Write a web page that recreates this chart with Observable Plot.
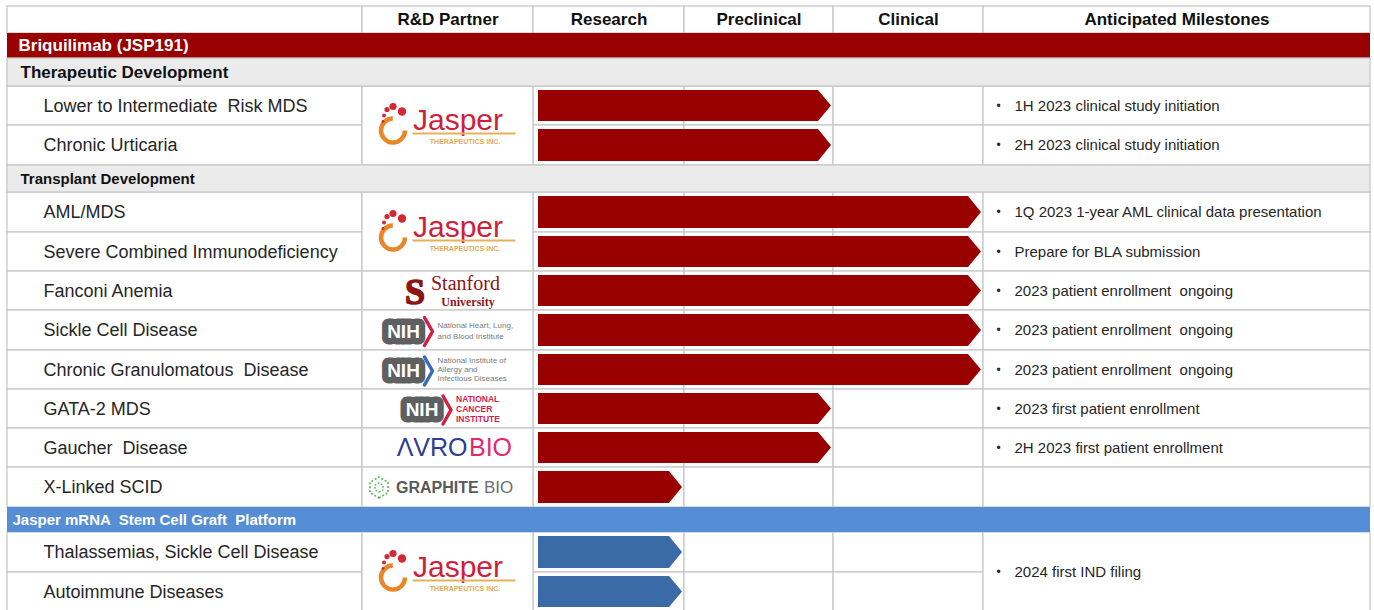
<!DOCTYPE html>
<html><head><meta charset="utf-8">
<script src="https://cdn.jsdelivr.net/npm/d3@7"></script>
<script src="https://cdn.jsdelivr.net/npm/@observablehq/plot@0.6"></script>
<style>html,body{margin:0;padding:0;background:#fff;} #chart svg{display:block;}</style>
</head><body><div id="chart"></div>
<script>
// ---------- DATA ----------
const headers = ["", "R&D Partner", "Research", "Preclinical", "Clinical", "Anticipated Milestones"];
const products = ["Briquilimab (JSP191)", "Jasper mRNA  Stem Cell Graft  Platform"];
const groups = ["Therapeutic Development", "Transplant Development"];
const programs = [
  "Lower to Intermediate  Risk MDS",
  "Chronic Urticaria",
  "AML/MDS",
  "Severe Combined Immunodeficiency",
  "Fanconi Anemia",
  "Sickle Cell Disease",
  "Chronic Granulomatous  Disease",
  "GATA-2 MDS",
  "Gaucher  Disease",
  "X-Linked SCID",
  "Thalassemias, Sickle Cell Disease",
  "Autoimmune Diseases"
];
const programProduct = [0, 0, 0, 0, 0, 0, 0, 0, 0, 0, 1, 1];
const programGroup = [0, 0, 1, 1, 1, 1, 1, 1, 1, 1, null, null];
// stage reached: 1 = Research, 2 = Preclinical, 3 = Clinical
const stageReached = [2, 2, 3, 3, 3, 3, 3, 2, 2, 1, 1, 1];
// null = merged with the cell above
const partners = ["Jasper", null, "Jasper", null, "Stanford", "NHLBI", "NIAID", "NCI", "AVROBIO", "Graphite", "Jasper", null];
const milestones = [
  "1H 2023 clinical study initiation",
  "2H 2023 clinical study initiation",
  "1Q 2023 1-year AML clinical data presentation",
  "Prepare for BLA submission",
  "2023 patient enrollment  ongoing",
  "2023 patient enrollment  ongoing",
  "2023 patient enrollment  ongoing",
  "2023 first patient enrollment",
  "2H 2023 first patient enrollment",
  "",
  "2024 first IND filing",
  null
];

// ---------- LAYOUT / STYLE ----------
const colEdges = [7, 362, 533, 684, 833, 983, 1370];
const rowEdges = [6, 33, 58, 86, 125, 165, 192, 232, 271, 310, 350, 389, 428, 467, 507, 532, 572, 611];
const productFill = ["#990000", "#558ed5"];
const productFont = [17, 15];
const productDx = [11, 5];
const groupFont = [17, 15];
const arrowFill = ["#990000", "#3a6ba6"];
const grid = "#c8c8c8";
const FONT = "Liberation Sans, Arial, Helvetica, sans-serif";
const SERIF = "Liberation Serif, Times New Roman, serif";

const fx = d3.scaleLinear(d3.range(colEdges.length), colEdges);
const fy = d3.scaleLinear(d3.range(rowEdges.length), rowEdges);
const X = (px) => fx.invert(px);
const Y = (py) => fy.invert(py);

// ---------- ROWS ----------
const rows = [{kind: "header"}];
let prevP = null, prevG = null;
programs.forEach((name, i) => {
  if (programProduct[i] !== prevP) { rows.push({kind: "product", p: programProduct[i]}); prevP = programProduct[i]; prevG = null; }
  if (programGroup[i] !== null && programGroup[i] !== prevG) { rows.push({kind: "group", g: programGroup[i]}); prevG = programGroup[i]; }
  rows.push({kind: "item", i});
});
const rowOf = {};
rows.forEach((r, k) => { r.k = k; if (r.kind === "item") rowOf[r.i] = k; });

// ---------- CELLS ----------
const cells = [];
headers.forEach((h, c) => cells.push({x1: c, x2: c + 1, y1: 0, y2: 1}));
function spans(arr) {
  const out = [];
  arr.forEach((v, i) => {
    if (v !== null) out.push({v, y1: rowOf[i], y2: rowOf[i] + 1});
    else out[out.length - 1].y2 = rowOf[i] + 1;
  });
  return out;
}
const partnerSpans = spans(partners);
const milestoneSpans = spans(milestones);
programs.forEach((n, i) => {
  const r = rowOf[i];
  cells.push({x1: 0, x2: 1, y1: r, y2: r + 1});
  for (let c = 2; c <= 4; c++) cells.push({x1: c, x2: c + 1, y1: r, y2: r + 1});
});
partnerSpans.forEach(s => cells.push({x1: 1, x2: 2, y1: s.y1, y2: s.y2}));
milestoneSpans.forEach(s => cells.push({x1: 5, x2: 6, y1: s.y1, y2: s.y2}));

const bands = rows.filter(r => r.kind === "product" || r.kind === "group").map(r => ({
  y1: r.k, y2: r.k + 1,
  fill: r.kind === "product" ? productFill[r.p] : "#ebebeb",
  stroke: r.kind === "product" ? "none" : grid
}));

// ---------- ARROWS ----------
const arrowPts = [];
programs.forEach((n, i) => {
  const r = rowOf[i];
  const end = colEdges[2 + stageReached[i]];
  const top = Y(fy(r) + 4), bot = Y(fy(r + 1) - 4), mid = r + 0.5;
  const col = arrowFill[programProduct[i]];
  arrowPts.push({id: i, x: X(colEdges[2] + 5), y1: top, y2: bot, fill: col});
  arrowPts.push({id: i, x: X(end - 15), y1: top, y2: bot, fill: col});
  arrowPts.push({id: i, x: X(end - 2), y1: mid, y2: mid, fill: col});
});

// ---------- LOGOS ----------
function txt(p, t, o) { return Plot.text(p, {x: d => d[0], y: d => d[1], text: () => t, ...o}); }
function jasperLogo(ya) {
  const p = [[1.5, ya]], ax = fx(1.5);
  return [
    Plot.dot(p, {x: d => d[0], y: d => d[1], dx: -55, dy: 5, r: 12, fill: "none", stroke: "#e8862a", strokeWidth: 4.5, strokeDasharray: "56 20"}),
    ...[[-55, -19, 3.6], [-46, -14, 4.2], [-61, -16, 2.6], [-64, -10, 2], [-65, -4, 1.4]].map(([dx, dy, r]) =>
      Plot.dot(p, {x: d => d[0], y: d => d[1], dx, dy, r, fill: "#d22a32"})),
    txt(p, "Jasper", {dx: -35, dy: -5, textAnchor: "start", fontSize: 30, letterSpacing: 1.5, fill: "#cf1f3a"}),
    Plot.ruleY([ya], {x1: X(ax - 35), x2: X(ax + 68), dy: 8, stroke: "#e3b35b", strokeWidth: 2}),
    txt(p, "THERAPEUTICS INC.", {dx: 17, dy: 16, fontSize: 7, fontWeight: "bold", letterSpacing: 2.4, fill: "#e2aa55"})
  ];
}
function stanfordLogo(ya) {
  const p = [[1.5, ya]];
  return [
    txt(p, "S", {dx: -33, dy: 1, fontFamily: SERIF, fontWeight: "bold", fontSize: 36, fill: "#8c1515", stroke: "#8c1515", strokeWidth: 1.5}),
    txt(p, "Stanford", {dx: -17, dy: -7, textAnchor: "start", fontFamily: SERIF, fontSize: 20, fill: "#8c1515"}),
    txt(p, "University", {dx: 20, dy: 11, fontFamily: SERIF, fontSize: 12, fontWeight: "bold", fill: "#8c1515"})
  ];
}
function nihLogo(ya, boxDx, chev, lines, dys, lineStyle) {
  const p = [[1.5, ya]], ax = fx(1.5), ay = fy(ya);
  const bc = ax + boxDx;
  return [
    txt(p, "NIH", {dx: boxDx, dy: 1, fontWeight: "bold", fontSize: 19, fill: "white", stroke: "#5e5f61", strokeWidth: 13, strokeLinejoin: "round"}),
    Plot.line([[X(bc + 21), Y(ay - 13)], [X(bc + 29), Y(ay + 1)], [X(bc + 21), Y(ay + 15)]], {x: d => d[0], y: d => d[1], stroke: chev, strokeWidth: 3.5}),
    Plot.text(lines, {x: () => X(bc + 34), y: (d, k) => Y(ay + dys[k]), text: d => d, textAnchor: "start", ...lineStyle})
  ];
}
function avroLogo(ya) {
  const p = [[1.5, ya]];
  return [
    txt(p, "\u039BVRO", {dx: 19.5, textAnchor: "end", fontSize: 25, fill: "#2c3e8f", letterSpacing: 1}),
    txt(p, "BIO", {dx: 21, textAnchor: "start", fontSize: 25, fill: "#e5286f", letterSpacing: 1})
  ];
}
function graphiteLogo(ya) {
  const p = [[1.5, ya]];
  return [
    Plot.hexagon(p, {x: d => d[0], y: d => d[1], dx: -69, r: 9, fill: "none", stroke: "#5cb860", strokeWidth: 1.8, strokeDasharray: "1.8 2"}),
    Plot.hexagon(p, {x: d => d[0], y: d => d[1], dx: -69, r: 4, fill: "none", stroke: "#5cb860", strokeWidth: 1.5, strokeDasharray: "1.6 1.8"}),
    txt(p, "GRAPHITE", {dx: -52, textAnchor: "start", fontSize: 16, fontWeight: "bold", letterSpacing: 0.8, fill: "#58595b"}),
    txt(p, "BIO", {dx: 36, textAnchor: "start", fontSize: 17, letterSpacing: 3, fill: "#6d6e70"})
  ];
}
const logoMarks = partnerSpans.flatMap(s => {
  const ya = (s.y1 + s.y2) / 2;
  switch (s.v) {
    case "Jasper": return jasperLogo(ya);
    case "Stanford": return stanfordLogo(ya);
    case "NHLBI": return nihLogo(ya, -44.5, "#d3203f", ["National Heart, Lung,", "and Blood Institute"], [-5, 6], {fontSize: 8, fill: "#7b7b7b"});
    case "NIAID": return nihLogo(ya, -44.5, "#3a6bb5", ["National Institute of", "Allergy and", "Infectious Diseases"], [-10, -1, 8], {fontSize: 8, fill: "#7b7b7b"});
    case "NCI": return nihLogo(ya, -26, "#d3203f", ["NATIONAL", "CANCER", "INSTITUTE"], [-10, 0, 10], {fontSize: 8.5, fontWeight: "bold", fill: "#d41e4a"});
    case "AVROBIO": return avroLogo(ya);
    case "Graphite": return graphiteLogo(ya);
  }
  return [];
});

// ---------- TEXTS ----------
const headerTexts = headers.map((h, c) => ({x: c + 0.5, y: 0.5, t: h})).filter(d => d.t);
const productRows = rows.filter(r => r.kind === "product");
const groupRows = rows.filter(r => r.kind === "group");
const itemTexts = programs.map((n, i) => ({y: rowOf[i] + 0.5, t: n}));
const msTexts = milestoneSpans.filter(s => s.v).map(s => ({y: (s.y1 + s.y2) / 2, t: s.v}));

const chart = Plot.plot({
  width: 1374,
  height: 610,
  margin: 0,
  x: {type: "linear", domain: d3.range(colEdges.length), range: colEdges, axis: null},
  y: {type: "linear", domain: d3.range(rowEdges.length), range: rowEdges, axis: null},
  color: {type: "identity"},
  style: {fontFamily: FONT, background: "white", color: "#222", overflow: "visible"},
  marks: [
    Plot.rect(cells, {x1: "x1", x2: "x2", y1: "y1", y2: "y2", fill: "white", stroke: grid, strokeWidth: 1.3}),
    Plot.rect(bands, {x1: () => 0, x2: () => 6, y1: "y1", y2: "y2", fill: "fill", stroke: "stroke", strokeWidth: 1.3}),
    Plot.text(headerTexts, {x: "x", y: "y", text: "t", fontSize: 17, fontWeight: "bold", fill: "#111"}),
    ...productRows.map(r => Plot.text([r], {x: () => 0, y: d => d.k + 0.5, text: d => products[d.p], dx: productDx[r.p], textAnchor: "start", fontSize: productFont[r.p], fontWeight: "bold", fill: "white"})),
    ...groupRows.map(r => Plot.text([r], {x: () => 0, y: d => d.k + 0.5, text: d => groups[d.g], dx: 13, textAnchor: "start", fontSize: groupFont[r.g], fontWeight: "bold", fill: "#111"})),
    Plot.areaY(arrowPts, {x: "x", y1: "y1", y2: "y2", z: "id", fill: "fill", curve: "linear"}),
    Plot.text(itemTexts, {x: () => 0, y: "y", text: "t", dx: 36, textAnchor: "start", fontSize: 18, fill: "#262626"}),
    Plot.text(msTexts, {x: () => 5, y: "y", text: () => "\u2022", dx: 15, fontSize: 12, fill: "#262626"}),
    Plot.text(msTexts, {x: () => 5, y: "y", text: "t", dx: 31, textAnchor: "start", fontSize: 15, fill: "#262626"}),
    ...logoMarks
  ]
});
document.getElementById("chart").appendChild(chart);
</script>
</body></html>
